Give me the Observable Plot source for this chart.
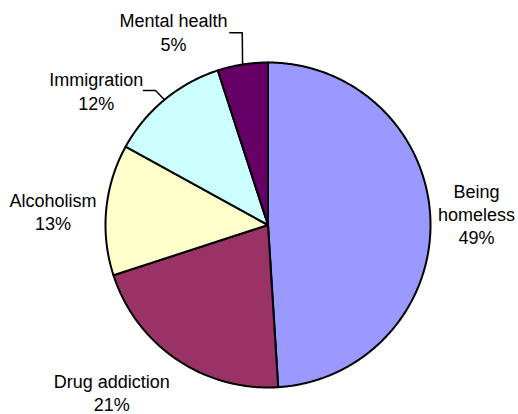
<!DOCTYPE html>
<html>
<head>
<meta charset="utf-8">
<script src="https://cdn.jsdelivr.net/npm/d3@7"></script>
<script src="https://cdn.jsdelivr.net/npm/@observablehq/plot@0.6"></script>
<style>
  html, body { margin: 0; padding: 0; background: #fff; }
</style>
</head>
<body>
<div id="chart"></div>
<script>
// ---- data ----
const categories = ["Being homeless", "Drug addiction", "Alcoholism", "Immigration", "Mental health"];
const labelNames = ["Being\nhomeless", "Drug addiction", "Alcoholism", "Immigration", "Mental health"];
const values = [49, 21, 13, 12, 5];
const colors = ["#9999FF", "#993366", "#FFFFCC", "#CCFFFF", "#660066"];

// ---- layout (in radius units, centre of pie = 0,0, y up) ----
const W = 518, H = 414;
const cxPx = 267.5, cyPx = 224.5, rPx = 162.5;
const labelPos = [[1.283, 0.068], [-0.9615, -1.026], [-1.323, 0.086], [-1.0566, 0.827], [-0.5815, 1.19]];
// leader lines: [knee, end] for slices that have them
const leaders = { "Immigration": [[-0.692, 0.828], [-0.766, 0.828]], "Mental health": [[-0.1585, 1.1828], [-0.235, 1.1828]] };

const arcs = d3.pie().sort(null).value(d => d)(values);

// slice outlines
const slicePts = [];
arcs.forEach((a, i) => {
  const cat = categories[i];
  slicePts.push({cat, x: 0, y: 0});
  const n = Math.max(2, Math.ceil((a.endAngle - a.startAngle) / (Math.PI / 360)));
  for (let k = 0; k <= n; k++) {
    const t = a.startAngle + (a.endAngle - a.startAngle) * k / n;
    slicePts.push({cat, x: Math.sin(t), y: Math.cos(t)});
  }
  slicePts.push({cat, x: 0, y: 0});
});

// leader line points
const leaderPts = [];
arcs.forEach((a, i) => {
  const cat = categories[i];
  if (!leaders[cat]) return;
  const m = (a.startAngle + a.endAngle) / 2;
  leaderPts.push({cat, x: Math.sin(m), y: Math.cos(m)});
  leaders[cat].forEach(p => leaderPts.push({cat, x: p[0], y: p[1]}));
});

const labels = categories.map((c, i) => ({
  cat: c,
  text: labelNames[i] + "\n" + values[i] + "%",
  x: labelPos[i][0],
  y: labelPos[i][1]
}));

const chart = Plot.plot({
  width: W,
  height: H,
  margin: 0,
  x: {domain: [-cxPx / rPx, (W - cxPx) / rPx], axis: null},
  y: {domain: [-(H - cyPx) / rPx, cyPx / rPx], axis: null},
  color: {domain: categories, range: colors},
  style: {fontFamily: "'Liberation Sans', Arial, sans-serif", fontSize: "18px", background: "#fff"},
  marks: [
    Plot.line(slicePts, {x: "x", y: "y", z: "cat", fill: "cat", stroke: "#000", strokeWidth: 2, strokeLinejoin: "round", curve: "linear-closed"}),
    Plot.line(leaderPts, {x: "x", y: "y", z: "cat", stroke: "#000", strokeWidth: 1.5}),
    Plot.text(labels, {x: "x", y: "y", text: "text", fontSize: 18, lineHeight: 1.28, fill: "#000", textAnchor: "middle", lineAnchor: "middle"})
  ]
});
document.getElementById("chart").appendChild(chart);
</script>
</body>
</html>
